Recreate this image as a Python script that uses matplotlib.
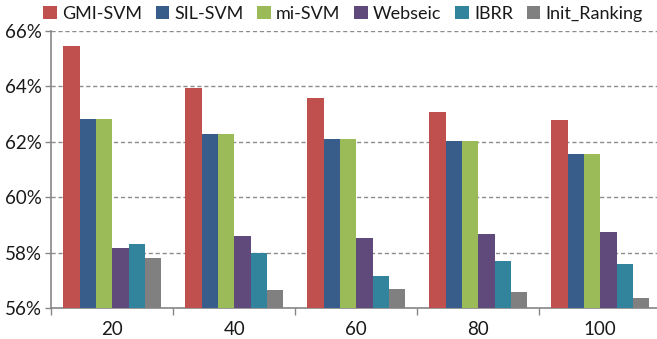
import numpy as np
from matplotlib import pyplot as plt
from matplotlib.ticker import FuncFormatter

# Number of top ranked images (x-axis groups)
groups = ['20', '40', '60', '80', '100']

# Precision per method (in %)
methods = ['GMI-SVM', 'SIL-SVM', 'mi-SVM', 'Webseic', 'IBRR', 'Init_Ranking']
gmi_svm = [65.45, 63.95, 63.58, 63.06, 62.77]
sil_svm = [62.82, 62.27, 62.09, 62.02, 61.55]
mi_svm = [62.82, 62.27, 62.09, 62.02, 61.55]
webseic = [58.16, 58.61, 58.55, 58.68, 58.76]
ibrr = [58.32, 57.98, 57.15, 57.72, 57.60]
init_ranking = [57.82, 56.65, 56.70, 56.59, 56.38]

colors = ['#C0504D', '#385D8A', '#9BBB59', '#604A7B', '#31849B', '#808080']

plt.rcParams['font.family'] = ['Lato', 'DejaVu Sans']

fig = plt.figure(figsize=(6.57, 3.39), dpi=100)
ax = fig.add_axes([0.078, 0.0906, 0.9285, 0.8188])

series = [gmi_svm, sil_svm, mi_svm, webseic, ibrr, init_ranking]
x = np.arange(len(groups))
n = len(series)
bar_w = 0.8 / n

# Bars are drawn from the bottom of the axis (56%)
base = 56
for i, (name, vals) in enumerate(zip(methods, series)):
    offs = (i - (n - 1) / 2) * bar_w
    ax.bar(x + offs, np.array(vals) - base, bar_w, bottom=base,
           color=colors[i], label=name, zorder=3)

ax.set_xlim(-0.5, len(groups) - 0.5)
ax.set_ylim(56, 66)
ax.set_yticks(np.arange(56, 67, 2))
ax.yaxis.set_major_formatter(FuncFormatter(lambda v, p: f'{v:.0f}%'))

# Tick marks between groups, labels centered on the groups
ax.set_xticks(np.arange(-0.5, len(groups), 1.0))
ax.set_xticklabels([])
ax.set_xticks(x, minor=True)
ax.set_xticklabels(groups, minor=True)
ax.tick_params(axis='x', which='major', length=5, color='#868686', width=1)
ax.tick_params(axis='x', which='minor', length=0, pad=9, labelsize=13.5, labelcolor='#1a1a1a')
ax.tick_params(axis='y', length=4, color='#868686', width=1, labelsize=13.5, labelcolor='#1a1a1a', pad=3)

ax.grid(axis='y', linestyle=(0, (3, 2)), color='#8c8c8c', linewidth=1, zorder=0)
for side in ['top', 'right']:
    ax.spines[side].set_visible(False)
for side in ['left', 'bottom']:
    ax.spines[side].set_color('#868686')
    ax.spines[side].set_linewidth(1.2)

fig.legend(loc='upper center', bbox_to_anchor=(0.522, 1.03), ncol=6, frameon=False,
           handlelength=0.75, handleheight=0.75, handletextpad=0.3, columnspacing=0.75,
           fontsize=13, labelcolor='#1a1a1a')

plt.savefig('out.png', dpi=100)
